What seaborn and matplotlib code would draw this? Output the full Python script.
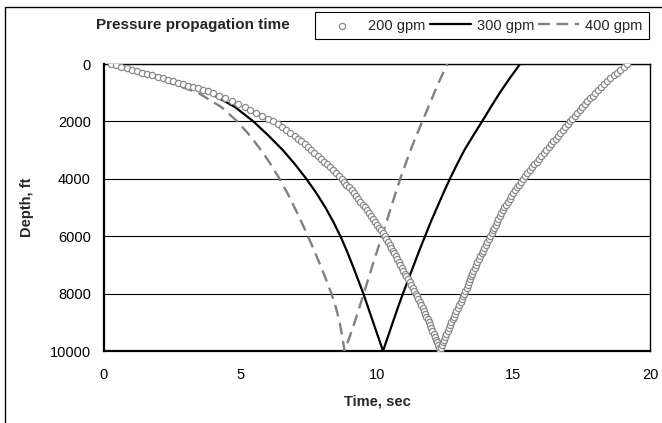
import matplotlib
matplotlib.use("Agg")
import matplotlib.pyplot as plt
from matplotlib.lines import Line2D
import seaborn as sns
import pandas as pd

# ---------------- data ----------------
# 200 gpm: depth (ft) and pressure-front time (sec); down the string, then back up
depth_200 = [0, 50, 100, 150, 200, 250, 300, 350, 400, 450, 500,
             550, 600, 650, 700, 750, 800, 850, 900, 950, 1000,
             1100, 1200, 1300, 1400, 1500, 1600, 1700, 1800, 1900, 2000,
             2100, 2200, 2300, 2400, 2500, 2600, 2700, 2800, 2900, 3000,
             3100, 3200, 3300, 3400, 3500, 3600, 3700, 3800, 3900, 4000,
             4100, 4200, 4300, 4400, 4500, 4600, 4700, 4800, 4900, 5000,
             5100, 5200, 5300, 5400, 5500, 5600, 5700, 5800, 5900, 6000,
             6100, 6200, 6300, 6400, 6500, 6600, 6700, 6800, 6900, 7000,
             7100, 7200, 7300, 7400, 7500, 7600, 7700, 7800, 7900, 8000,
             8100, 8200, 8300, 8400, 8500, 8600, 8700, 8800, 8900, 9000,
             9100, 9200, 9300, 9400, 9500, 9600, 9700, 9800, 9900, 10000,
             9900, 9800, 9700, 9600, 9500, 9400, 9300, 9200, 9100, 9000,
             8900, 8800, 8700, 8600, 8500, 8400, 8300, 8200, 8100, 8000,
             7900, 7800, 7700, 7600, 7500, 7400, 7300, 7200, 7100, 7000,
             6900, 6800, 6700, 6600, 6500, 6400, 6300, 6200, 6100, 6000,
             5900, 5800, 5700, 5600, 5500, 5400, 5300, 5200, 5100, 5000,
             4900, 4800, 4700, 4600, 4500, 4400, 4300, 4200, 4100, 4000,
             3900, 3800, 3700, 3600, 3500, 3400, 3300, 3200, 3100, 3000,
             2900, 2800, 2700, 2600, 2500, 2400, 2300, 2200, 2100, 2000,
             1900, 1800, 1700, 1600, 1500, 1400, 1300, 1200, 1100, 1000,
             900, 800, 700, 600, 500, 400, 300, 200, 100, 0]
time_200 = [0.26, 0.45, 0.64, 0.83, 1.02, 1.21, 1.39, 1.58, 1.77, 1.96, 2.15,
            2.33, 2.52, 2.70, 2.88, 3.07, 3.25, 3.43, 3.61, 3.80, 3.98,
            4.21, 4.45, 4.68, 4.92, 5.15, 5.36, 5.57, 5.78, 5.99, 6.20,
            6.36, 6.51, 6.67, 6.82, 6.98, 7.10, 7.23, 7.35, 7.48, 7.60,
            7.71, 7.83, 7.94, 8.06, 8.17, 8.28, 8.38, 8.49, 8.59, 8.70,
            8.79, 8.88, 8.98, 9.07, 9.16, 9.24, 9.32, 9.39, 9.47, 9.55,
            9.63, 9.70, 9.78, 9.85, 9.93, 10.00, 10.07, 10.14, 10.21, 10.28,
            10.34, 10.40, 10.47, 10.53, 10.59, 10.64, 10.70, 10.75, 10.81, 10.86,
            10.92, 10.97, 11.03, 11.08, 11.14, 11.20, 11.25, 11.31, 11.36, 11.42,
            11.47, 11.52, 11.57, 11.62, 11.67, 11.72, 11.76, 11.81, 11.85, 11.90,
            11.94, 11.98, 12.03, 12.07, 12.11, 12.15, 12.19, 12.22, 12.26, 12.30,
            12.34, 12.38, 12.42, 12.46, 12.50, 12.54, 12.59, 12.63, 12.68, 12.72,
            12.77, 12.82, 12.86, 12.91, 12.96, 13.01, 13.06, 13.10, 13.15, 13.20,
            13.24, 13.28, 13.32, 13.36, 13.40, 13.44, 13.49, 13.53, 13.58, 13.62,
            13.67, 13.72, 13.78, 13.83, 13.88, 13.93, 13.99, 14.04, 14.10, 14.15,
            14.20, 14.25, 14.30, 14.35, 14.40, 14.45, 14.51, 14.56, 14.62, 14.67,
            14.73, 14.79, 14.86, 14.92, 14.98, 15.05, 15.12, 15.19, 15.26, 15.33,
            15.42, 15.50, 15.59, 15.67, 15.76, 15.85, 15.94, 16.02, 16.11, 16.20,
            16.29, 16.37, 16.46, 16.54, 16.63, 16.72, 16.81, 16.89, 16.98, 17.07,
            17.16, 17.25, 17.34, 17.43, 17.52, 17.62, 17.71, 17.81, 17.90, 18.00,
            18.11, 18.22, 18.33, 18.44, 18.55, 18.67, 18.79, 18.91, 19.03, 19.15]

# 300 gpm
depth_300 = [0, 500, 1000, 1500, 2000, 2500, 3000, 3500, 4000, 4500, 5000,
             5500, 6000, 6500, 7000, 7500, 8000, 8500, 9000, 9500, 10000,
             9500, 9000, 8500, 8000, 7500, 7000, 6500, 6000, 5500, 5000,
             4500, 4000, 3500, 3000, 2500, 2000, 1500, 1000, 500, 0]
time_300 = [0.26, 2.05, 3.85, 4.80, 5.47, 6.03, 6.55, 7.00, 7.41, 7.78, 8.11,
            8.40, 8.66, 8.89, 9.10, 9.30, 9.50, 9.68, 9.86, 10.04, 10.22,
            10.40, 10.58, 10.76, 10.95, 11.15, 11.35, 11.55, 11.76, 11.97, 12.20,
            12.43, 12.67, 12.93, 13.20, 13.52, 13.85, 14.17, 14.50, 14.86, 15.24]

# 400 gpm
depth_400 = [0, 500, 1000, 1500, 2000, 2500, 3000, 3500, 4000, 4500, 5000,
             5500, 6000, 6500, 7000, 7500, 8000, 8500, 9000, 9500, 10000,
             9500, 9000, 8500, 8000, 7500, 7000, 6500, 6000, 5500, 5000,
             4500, 4000, 3500, 3000, 2500, 2000, 1500, 1000, 500, 0]
time_400 = [0.26, 1.95, 3.44, 4.30, 4.88, 5.35, 5.75, 6.11, 6.43, 6.72, 6.98,
            7.23, 7.47, 7.70, 7.92, 8.13, 8.33, 8.50, 8.63, 8.73, 8.81,
            9.00, 9.18, 9.35, 9.51, 9.68, 9.84, 10.01, 10.18, 10.35, 10.51,
            10.68, 10.85, 11.04, 11.23, 11.44, 11.66, 11.88, 12.10, 12.33, 12.57]

series_labels = ["200 gpm", "300 gpm", "400 gpm"]
x_ticks = [0, 5, 10, 15, 20]
y_ticks = [0, 2000, 4000, 6000, 8000, 10000]
title_text = "Pressure propagation time"
x_label = "Time, sec"
y_label = "Depth, ft"

# ---------------- figure ----------------
sns.set_style("white")
plt.rcParams['font.family'] = ['Liberation Sans', 'DejaVu Sans']

W, H = 662, 423
fig = plt.figure(figsize=(W / 100, H / 100), dpi=100)
ax = fig.add_axes([104 / W, 1 - 351 / H, (650 - 104) / W, (351 - 64) / H])

df200 = pd.DataFrame({"Time": time_200, "Depth": depth_200})
df300 = pd.DataFrame({"Time": time_300, "Depth": depth_300})
df400 = pd.DataFrame({"Time": time_400, "Depth": depth_400})

sns.scatterplot(data=df200, x="Time", y="Depth", ax=ax, marker="o", s=20,
                color="#8a8a8a", facecolor="white", edgecolor="#8a8a8a",
                linewidth=0.9, label=series_labels[0], zorder=5)
sns.lineplot(data=df300, x="Time", y="Depth", ax=ax, sort=False, estimator=None,
             color="black", linewidth=1.6, label=series_labels[1], zorder=3)
sns.lineplot(data=df400, x="Time", y="Depth", ax=ax, sort=False, estimator=None,
             color="#808080", linewidth=1.7, linestyle=(0, (5, 2.8)),
             label=series_labels[2], zorder=4)

ax.set_xlim(0, 20)
ax.set_ylim(10000, 0)
ax.set_xticks(x_ticks)
ax.set_yticks(y_ticks)
ax.set_xticklabels([str(v) for v in x_ticks])
ax.set_yticklabels([str(v) for v in y_ticks])

ax.yaxis.grid(True, color="black", linewidth=0.8)
ax.xaxis.grid(False)
ax.set_axisbelow(True)

for side in ["top", "right"]:
    ax.spines[side].set_color("black")
    ax.spines[side].set_linewidth(1.0)
for side in ["left", "bottom"]:
    ax.spines[side].set_color("black")
    ax.spines[side].set_linewidth(1.6)

ax.tick_params(axis="both", direction="out", length=4.5, width=0.8,
               color="black", labelsize=10.5, labelcolor="black")
ax.tick_params(axis="x", pad=8)
ax.tick_params(axis="y", pad=5)

ax.set_xlabel(x_label, fontsize=10.5, fontweight="bold", labelpad=9)
ax.set_ylabel(y_label, fontsize=10.5, fontweight="bold", labelpad=11)

# legend
handles, labels = ax.get_legend_handles_labels()
if ax.get_legend() is not None:
    ax.get_legend().remove()
leg = fig.legend(handles, labels, ncol=3, loc="upper right",
                 bbox_to_anchor=(649 / W, 1 - 12 / H), borderaxespad=0,
                 frameon=True, fancybox=False, framealpha=1, edgecolor="black",
                 fontsize=10.5, handlelength=2.8, columnspacing=0.3,
                 handletextpad=0.4, borderpad=0.45, scatterpoints=1,
                 markerscale=1.0)
leg.get_frame().set_linewidth(0.8)

fig.text(193 / W, 1 - 25 / H, title_text, ha="center", va="center",
         fontsize=11, fontweight="bold")

# outer chart border (top and left edges visible)
fig.add_artist(Line2D([5 / W, 5 / W], [0, 1 - 7 / H], transform=fig.transFigure,
                      color="black", linewidth=1.0))
fig.add_artist(Line2D([5 / W, 1], [1 - 7 / H, 1 - 7 / H], transform=fig.transFigure,
                      color="black", linewidth=1.0))

fig.savefig("out.png", dpi=100)
